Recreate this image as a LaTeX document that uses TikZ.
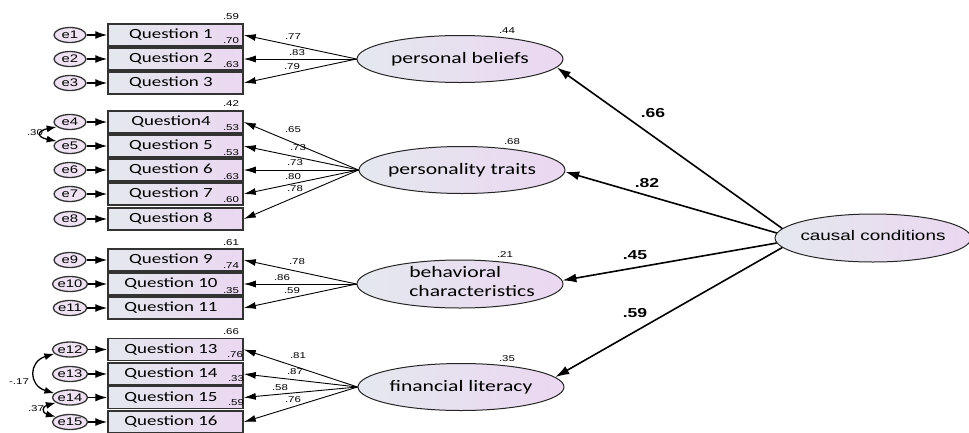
\documentclass[tikz,border=0pt]{standalone}
\usepackage{fontspec}
\usetikzlibrary{arrows.meta,shapes.geometric}
\newfontfamily\qfont{Carlito}[FakeStretch=1.35]
\newfontfamily\afont{Liberation Sans}[FakeStretch=1.35]
\definecolor{fillL}{HTML}{E4E8EE}
\definecolor{fillR}{HTML}{EBD7F1}
\definecolor{errfill}{HTML}{EFE2F3}
\definecolor{edgegray}{HTML}{333333}

\begin{document}
\begin{tikzpicture}[x=1pt,y=-1pt,
  item/.style={draw=edgegray, line width=1.5pt, left color=fillL, right color=fillR,
    minimum width=135pt, minimum height=22pt, inner sep=0pt, font=\fontsize{14}{16}\qfont},
  errv/.style={ellipse, draw=edgegray, line width=1.3pt, fill=errfill,
    minimum width=32pt, minimum height=15pt, inner sep=0pt, font=\fontsize{11}{12}\afont},
  latent/.style={ellipse, draw=black!85, line width=1pt, left color=fillL, right color=fillR,
    minimum width=206pt, minimum height=47pt, inner sep=0pt},
  lattext/.style={font=\fontsize{16}{19}\qfont, inner sep=0pt},
  numsmall/.style={font=\fontsize{8.5}{10}\afont, inner sep=0pt},
  numbig/.style={font=\fontsize{13}{15}\afont\bfseries, inner sep=0pt},
  errarrow/.style={line width=1.4pt, -{Latex[length=12pt,width=8pt]}},
  load/.style={line width=0.9pt, -{Latex[length=12pt,width=7pt]}},
  struct/.style={line width=1.6pt, -{Latex[length=14pt,width=9pt]}},
  cov/.style={line width=1.3pt, {Latex[length=10pt,width=7pt]}-{Latex[length=10pt,width=7pt]}},
]
\useasboundingbox (0,0) rectangle (969,432);
\clip (0,0) rectangle (969,432);

% observed items with their error terms
\foreach \i/\y/\q/\t in {1/35/1/Question 1, 2/59/2/Question 2, 3/83/3/Question 3,
    4/122/4/Question4, 5/146/5/Question 5, 6/170/6/Question 6, 7/194/7/Question 7,
    8/219/8/Question 8, 9/260/9/Question 9, 10/284/10/Question 10, 11/308/11/Question 11,
    12/349.5/13/Question 13, 13/374/14/Question 14, 14/397.5/15/Question 15,
    15/422/16/Question 16} {
  \node[item] (q\q) at (175.5,\y) {\t\hspace*{9pt}};
  \node[errv] (e\i) at (70,\y) {e\i};
  \draw[errarrow] (e\i) -- (q\q);
}

% latent factors
\node[latent, label={[lattext]center:personal beliefs}] (pb) at (460,59) {};
\node[latent, label={[lattext]center:personality traits}] (pt) at (462,170) {};
\node[latent, minimum height=48pt,
  label={[lattext, align=left, xshift=12pt, yshift=2.5pt]center:behavioral\\characteristics}] (bc) at (460,284) {};
\node[latent, label={[lattext]center:financial literacy}] (fl) at (461,387) {};
\node[latent, minimum width=196pt, minimum height=48pt,
  label={[font=\fontsize{14}{16}\afont, inner sep=0pt, yshift=3pt]center:causal conditions}] (cc) at (873,238) {};

% loadings
\foreach \q in {1,2,3} \draw[load] (pb.west) -- (q\q.east);
\foreach \q in {4,5,6,7,8} \draw[load] (pt.west) -- (q\q.east);
\foreach \q in {9,10,11} \draw[load] (bc.west) -- (q\q.east);
\foreach \q in {13,14,15,16} \draw[load] (fl.west) -- (q\q.east);

% structural paths
\draw[struct] (cc.174) -- (pb.-5);
\draw[struct] (cc.177) -- (pt.-1);
\draw[struct] (cc.183) -- (bc.2);
\draw[struct] (cc.186) -- (fl.6);

% error covariances
\draw[cov] (e4.200) .. controls +(-20,4) and +(-20,-4) .. (e5.160);
\draw[cov] (e12.195) .. controls +(-26,8) and +(-26,-8) .. (e14.165);
\draw[cov] (e14.200) .. controls +(-14,4) and +(-14,-4) .. (e15.160);

% squared multiple correlations
\foreach \v/\x/\y [count=\k] in {.59/231/17, .70/231/41, .63/231/65, .42/231/104,
    .53/231/128, .53/231/153, .63/231/177, .60/231/200, .61/231/243, .74/231/266,
    .35/231/291, .66/231/332, .76/235/355, .33/236/379, .59/236/403,
    .44/507/31, .68/512/142, .21/505/255, .35/507/359}
  \node[numsmall] (rsq\k) at (\x,\y) {\v};

% standardized loadings
\foreach \v/\x/\y [count=\k] in {.77/293/37, .83/297/53, .79/292/67,
    .65/293/130, .73/298/148, .73/295/163, .80/293/177, .78/295/189,
    .78/297/262, .86/282/278, .59/292/291,
    .81/298/356, .87/295/372, .58/280/388, .76/293/400}
  \node[numsmall] (ld\k) at (\x,\y) {\v};

% structural coefficients
\foreach \v/\x/\y [count=\k] in {.66/653/113, .82/647/183, .45/635/255, .59/635/313}
  \node[numbig] (st\k) at (\x,\y) {\v};

% covariance values
\node[numsmall] (cv1) at (35,133) {.30};
\node[numsmall] (cv2) at (19,382) {-.17};
\node[numsmall] (cv3) at (36,409) {.37};
\end{tikzpicture}
\end{document}
